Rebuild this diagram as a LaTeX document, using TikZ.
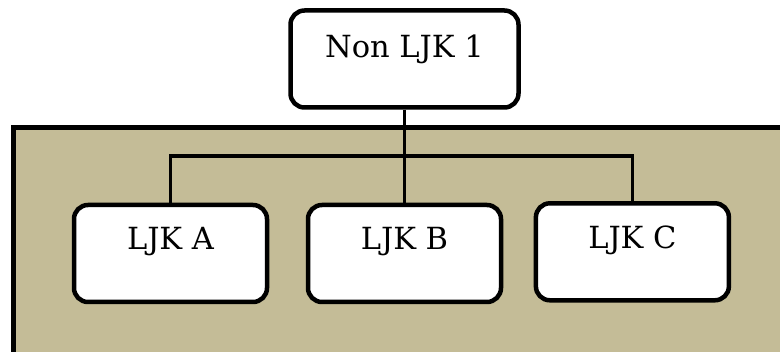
\documentclass[tikz,border=0pt]{standalone}
\usepackage{fontspec}
\setmainfont{DejaVu Serif}
\usepackage{tikz}
\usetikzlibrary{positioning}
\definecolor{khaki}{HTML}{C4BC97}

\begin{document}
\begin{tikzpicture}[x=1pt,y=1pt,
  unit/.style={draw=black, line width=4.5pt, fill=white, rounded corners=14pt,
    inner xsep=0pt, inner ysep=0pt, minimum width=193pt,
    font=\fontsize{30.5}{36}\selectfont, text height=45pt, text depth=52pt},
  link/.style={draw=black, line width=3.5pt}]
\useasboundingbox (0,0) rectangle (780,-352);
\draw[khaki, fill=khaki] (13,-128) rectangle (790,-360);
\draw[black, line width=5pt] (800,-128) -- (13,-128) -- (13,-360);
\node[unit, minimum width=228pt, text height=47pt, text depth=50pt] (nonljk) at (404.5,-59) {Non LJK 1};
\node[unit] (ljka) at (170.5,-253.5) {LJK A};
\node[unit] (ljkb) at (404.5,-253.5) {LJK B};
\node[unit] (ljkc) at (632.4,-251.8) {LJK C};
\coordinate (bus) at (404.5,-156);
\draw[link] (nonljk.south) -- (ljkb.north);
\draw[link] (ljka.north) |- (bus) -| (ljkc.north);
\end{tikzpicture}
\end{document}
